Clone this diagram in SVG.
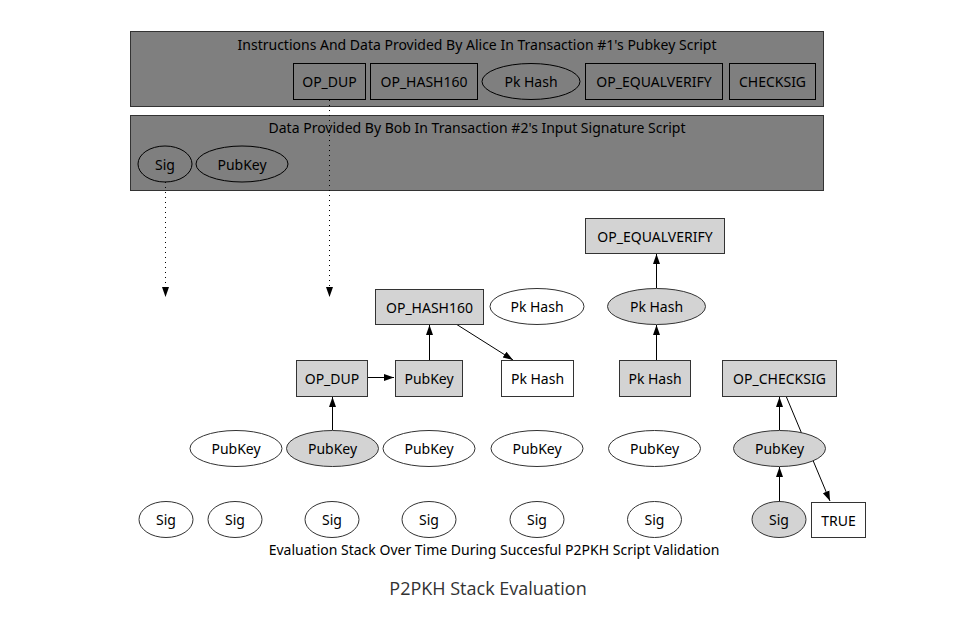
<svg xmlns="http://www.w3.org/2000/svg" width="968" height="626" viewBox="0 0 968 626">
<defs>
<style>
text{font-family:"Noto Sans","Open Sans","DejaVu Sans",sans-serif;font-size:14px;fill:#000;text-anchor:middle;dominant-baseline:central}
.cl{fill:#7f7f7f;stroke:#333;stroke-width:1}
.b{fill:#d3d3d3;stroke:#333;stroke-width:1}
.w{fill:#fff;stroke:#333;stroke-width:1}
.n{fill:none;stroke:#000;stroke-width:1}
.e{fill:none;stroke:#000;stroke-width:1}
.d{fill:none;stroke:#000;stroke-width:1;stroke-dasharray:1 4}
.t{font-size:18px;fill:#333;font-family:"Open Sans","Noto Sans",sans-serif}
</style>
<marker id="a" viewBox="0 0 10 10" refX="10" refY="5" markerWidth="10" markerHeight="10" markerUnits="userSpaceOnUse" orient="auto"><path d="M0,1.5L10,5L0,8.5z" fill="#000"/></marker>
</defs>
<rect width="968" height="626" fill="#fff"/>
<g id="alice">
<rect class="cl" x="130.5" y="31.5" width="693" height="75"/>
<text x="477" y="44">Instructions And Data Provided By Alice In Transaction #1's Pubkey Script</text>
<g id="a_dup"><rect class="n" x="293.5" y="63.5" width="72" height="36"/><text x="329.5" y="81.5">OP_DUP</text></g>
<g id="a_hash160"><rect class="n" x="370.5" y="63.5" width="107" height="36"/><text x="424" y="81.5">OP_HASH160</text></g>
<g id="a_pkhash"><ellipse class="n" cx="531" cy="81.5" rx="49" ry="18"/><text x="531" y="81.5">Pk Hash</text></g>
<g id="a_eqv"><rect class="n" x="585.5" y="63.5" width="137" height="36"/><text x="654" y="81.5">OP_EQUALVERIFY</text></g>
<g id="a_checksig"><rect class="n" x="729.5" y="63.5" width="86" height="36"/><text x="772.5" y="81.5">CHECKSIG</text></g>
</g>
<g id="bob">
<rect class="cl" x="130.5" y="115.5" width="693" height="75"/>
<text x="477" y="127">Data Provided By Bob In Transaction #2's Input Signature Script</text>
<g id="b_sig"><ellipse class="n" cx="165" cy="164" rx="27" ry="18"/><text x="165" y="164">Sig</text></g>
<g id="b_pubkey"><ellipse class="n" cx="242" cy="164" rx="46" ry="18"/><text x="242" y="164">PubKey</text></g>
</g>
<g id="connectors">
<path class="d" d="M165.5,182V297" marker-end="url(#a)"/>
<path class="d" d="M329.5,100V297" marker-end="url(#a)"/>
<path class="e" d="M332.5,430V397" marker-end="url(#a)"/>
<path class="e" d="M367,377.5H394" marker-end="url(#a)"/>
<path class="e" d="M429.5,360V325" marker-end="url(#a)"/>
<path class="e" d="M456,324L513,360" marker-end="url(#a)"/>
<path class="e" d="M656.5,360V325" marker-end="url(#a)"/>
<path class="e" d="M656.5,288V254" marker-end="url(#a)"/>
<path class="e" d="M779.5,501V467" marker-end="url(#a)"/>
<path class="e" d="M779.5,430V397" marker-end="url(#a)"/>
<path class="e" d="M786,396L830,501" marker-end="url(#a)"/>
</g>
<g id="s_hash160"><rect class="b" x="375.5" y="289.5" width="108" height="35"/><text x="429.5" y="307">OP_HASH160</text></g>
<g id="s_pkhash1"><ellipse class="w" cx="537" cy="306.5" rx="47" ry="18"/><text x="537" y="306.5">Pk Hash</text></g>
<g id="s_pkhash2"><ellipse class="b" cx="656.5" cy="306.5" rx="49" ry="18"/><text x="656.5" y="306.5">Pk Hash</text></g>
<g id="s_eqv"><rect class="b" x="585.5" y="218.5" width="139" height="35"/><text x="655" y="236">OP_EQUALVERIFY</text></g>
<g id="s_dup"><rect class="b" x="296.5" y="360.5" width="71" height="36"/><text x="332" y="378.5">OP_DUP</text></g>
<g id="s_pubkeybox"><rect class="b" x="395.5" y="360.5" width="67" height="36"/><text x="429" y="378.5">PubKey</text></g>
<g id="s_pkhashbox1"><rect class="w" x="501.5" y="360.5" width="72" height="36"/><text x="537.5" y="378.5">Pk Hash</text></g>
<g id="s_pkhashbox2"><rect class="b" x="619.5" y="360.5" width="71" height="36"/><text x="655" y="378.5">Pk Hash</text></g>
<g id="s_checksig"><rect class="b" x="722.5" y="360.5" width="114" height="36"/><text x="779.5" y="378.5">OP_CHECKSIG</text></g>
<g id="s_pk1"><ellipse class="w" cx="236" cy="448.5" rx="46" ry="18"/><text x="236" y="448.5">PubKey</text></g>
<g id="s_pk2"><ellipse class="b" cx="332.5" cy="448.5" rx="46" ry="18"/><text x="332.5" y="448.5">PubKey</text></g>
<g id="s_pk3"><ellipse class="w" cx="429" cy="448.5" rx="46" ry="18"/><text x="429" y="448.5">PubKey</text></g>
<g id="s_pk4"><ellipse class="w" cx="537" cy="448.5" rx="46" ry="18"/><text x="537" y="448.5">PubKey</text></g>
<g id="s_pk5"><ellipse class="w" cx="654.5" cy="448.5" rx="46" ry="18"/><text x="654.5" y="448.5">PubKey</text></g>
<g id="s_pk6"><ellipse class="b" cx="779.5" cy="448.5" rx="46" ry="18"/><text x="779.5" y="448.5">PubKey</text></g>
<g id="s_sig1"><ellipse class="w" cx="166" cy="519.5" rx="27" ry="18"/><text x="166" y="519.5">Sig</text></g>
<g id="s_sig2"><ellipse class="w" cx="235" cy="519.5" rx="27" ry="18"/><text x="235" y="519.5">Sig</text></g>
<g id="s_sig3"><ellipse class="w" cx="332" cy="519.5" rx="27" ry="18"/><text x="332" y="519.5">Sig</text></g>
<g id="s_sig4"><ellipse class="w" cx="429" cy="519.5" rx="27" ry="18"/><text x="429" y="519.5">Sig</text></g>
<g id="s_sig5"><ellipse class="w" cx="537" cy="519.5" rx="27" ry="18"/><text x="537" y="519.5">Sig</text></g>
<g id="s_sig6"><ellipse class="w" cx="654.5" cy="519.5" rx="27" ry="18"/><text x="654.5" y="519.5">Sig</text></g>
<g id="s_sig7"><ellipse class="b" cx="779" cy="519.5" rx="27" ry="18"/><text x="779" y="519.5">Sig</text></g>
<g id="s_true"><rect class="w" x="811.5" y="502.5" width="54" height="35"/><text x="838.5" y="520">TRUE</text></g>
<text x="494" y="549">Evaluation Stack Over Time During Succesful P2PKH Script Validation</text>
<text class="t" x="488" y="588">P2PKH Stack Evaluation</text>
</svg>
